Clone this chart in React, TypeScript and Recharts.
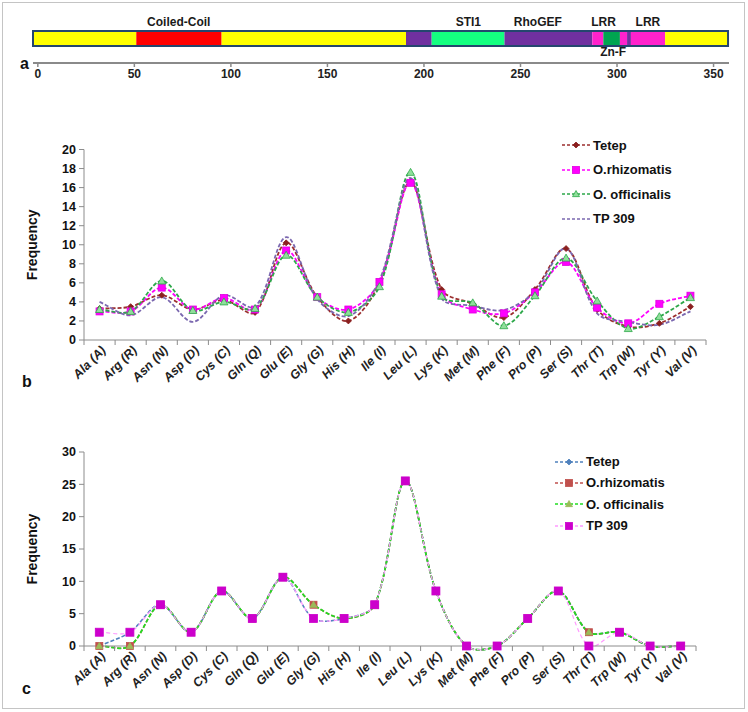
import React from "react";
import {
  ComposedChart, LineChart, Line, XAxis, YAxis, Legend,
  ReferenceArea, ReferenceDot, Label,
} from "recharts";

// panel a: protein domain map (positions in residues)
const segStarts = [-2.5, 51, 95.2, 190.7, 204, 241.7, 287.2, 292.9, 301.5, 305.2, 307.2, 324.9];
const segEnds = [51, 95.2, 190.7, 204, 241.7, 287.2, 292.9, 301.5, 305.2, 307.2, 324.9, 357.5];
const segColors = ["#ffff00", "#ff0000", "#ffff00", "#7030a0", "#14ff80", "#7030a0", "#ff22cc", "#00a550", "#ff22cc", "#7030a0", "#ff22cc", "#ffff00"];
const domainLabels = ["Coiled-Coil", "STI1", "RhoGEF", "LRR", "LRR"];
const domainLabelPos = [73, 223, 259, 293, 316];
const znfLabel = "Zn-F";
const znfPos = 298;
const residueTicks = [0, 50, 100, 150, 200, 250, 300, 350];

// panels b and c: amino acid frequency
const aminoAcids = ["Ala (A)", "Arg (R)", "Asn (N)", "Asp (D)", "Cys (C)", "Gln (Q)", "Glu (E)", "Gly (G)", "His (H)", "Ile (I)",
  "Leu (L)", "Lys (K)", "Met (M)", "Phe (F)", "Pro (P)", "Ser (S)", "Thr (T)", "Trp (W)", "Tyr (Y)", "Val (V)"];
const seriesNames = ["Tetep", "O.rhizomatis", "O. officinalis", "TP 309"];

const tetepB = [3.3, 3.5, 4.7, 3.2, 4.2, 2.9, 10.2, 4.5, 2.0, 6.0, 16.6, 5.3, 3.8, 2.35, 5.3, 9.6, 3.2, 1.4, 1.75, 3.5];
const rhizB = [3.0, 3.0, 5.5, 3.2, 4.4, 3.2, 9.4, 4.5, 3.2, 6.1, 16.5, 4.8, 3.2, 2.8, 5.0, 8.2, 3.4, 1.75, 3.8, 4.65];
const offB = [3.2, 3.0, 6.2, 3.1, 4.0, 3.3, 8.9, 4.5, 2.9, 5.6, 17.6, 4.6, 3.9, 1.5, 4.65, 8.6, 4.1, 1.2, 2.45, 4.45];
const tpB = [4.0, 2.6, 4.5, 1.9, 4.7, 3.5, 10.8, 4.3, 2.5, 6.3, 17.0, 4.4, 3.6, 3.15, 5.1, 9.6, 2.8, 1.9, 1.6, 3.0];

const tetepC = [0, 2.13, 6.38, 2.13, 8.51, 4.26, 10.64, 4.26, 4.26, 6.38, 25.53, 8.51, 0, 0, 4.26, 8.51, 2.13, 2.13, 0, 0];
const rhizC = [0, 0, 6.38, 2.13, 8.51, 4.26, 10.64, 6.38, 4.26, 6.38, 25.53, 8.51, 0, 0, 4.26, 8.51, 2.13, 2.13, 0, 0];
const offC = [0, 0, 6.38, 2.13, 8.51, 4.26, 10.64, 6.38, 4.26, 6.38, 25.53, 8.51, 0, 0, 4.26, 8.51, 2.13, 2.13, 0, 0];
const tpC = [2.13, 2.13, 6.38, 2.13, 8.51, 4.26, 10.64, 4.26, 4.26, 6.38, 25.53, 8.51, 0, 0, 4.26, 8.51, 0, 2.13, 0, 0];

const ticksB = [0, 2, 4, 6, 8, 10, 12, 14, 16, 18, 20];
const ticksC = [0, 5, 10, 15, 20, 25, 30];

const dataB = aminoAcids.map((aa, i) => ({ aa, s0: tetepB[i], s1: rhizB[i], s2: offB[i], s3: tpB[i] }));
const dataC = aminoAcids.map((aa, i) => ({ aa, s0: tetepC[i], s1: rhizC[i], s2: offC[i], s3: tpC[i] }));

const FONT = "'Liberation Sans', Arial, sans-serif";

// Excel-like smoothed line: bezier with control arms scaled by neighbouring chord lengths
function excelSmooth(context: any) {
  let pts: number[][] = [];
  const dist = (a: number[], b: number[]) => Math.hypot(b[0] - a[0], b[1] - a[1]);
  return {
    areaStart() {},
    areaEnd() {},
    lineStart() { pts = []; },
    point(x: number, y: number) { pts.push([+x, +y]); },
    lineEnd() {
      const n = pts.length;
      if (!n) return;
      context.moveTo(pts[0][0], pts[0][1]);
      for (let i = 0; i < n - 1; i++) {
        const p0 = pts[Math.max(i - 1, 0)], p1 = pts[i], p2 = pts[i + 1], p3 = pts[Math.min(i + 2, n - 1)];
        const d01 = dist(p0, p1), d12 = dist(p1, p2), d23 = dist(p2, p3);
        const f1 = d01 + d12 > 0 ? d12 / (d01 + d12) / 3 : 0;
        const f2 = d12 + d23 > 0 ? d12 / (d12 + d23) / 3 : 0;
        context.bezierCurveTo(
          p1[0] + (p2[0] - p0[0]) * f1, p1[1] + (p2[1] - p0[1]) * f1,
          p2[0] - (p3[0] - p1[0]) * f2, p2[1] - (p3[1] - p1[1]) * f2,
          p2[0], p2[1],
        );
      }
    },
  };
}

function Mark({ shape, cx, cy, size, fill, stroke }: any) {
  if (cx == null || cy == null || shape === "none") return null;
  const h = size / 2;
  if (shape === "square") return <rect x={cx - h} y={cy - h} width={size} height={size} fill={fill} stroke={stroke} strokeWidth={0.8} />;
  if (shape === "diamond") return <path d={`M${cx},${cy - h}L${cx + h},${cy}L${cx},${cy + h}L${cx - h},${cy}Z`} fill={fill} stroke={stroke} strokeWidth={0.8} />;
  return <path d={`M${cx},${cy - h}L${cx + h},${cy + h * 0.75}L${cx - h},${cy + h * 0.75}Z`} fill={fill} stroke={stroke} strokeWidth={0.8} />;
}

const styleB = [
  { line: "#9c2f2f", shape: "diamond", fill: "#8a1f1f", stroke: "#8a1f1f", size: 6, dash: "4 2", width: 1.8 },
  { line: "#ff00ff", shape: "square", fill: "#ff00ff", stroke: "#e000e0", size: 7, dash: "4 2", width: 1.8 },
  { line: "#2da84a", shape: "triangle", fill: "#8fdf9a", stroke: "#2da84a", size: 8, dash: "4 2", width: 1.8 },
  { line: "#7b68b0", shape: "none", fill: "none", stroke: "none", size: 0, dash: "4 2", width: 1.8 },
];
const styleC = [
  { line: "#4f81bd", shape: "diamond", fill: "#4f81bd", stroke: "#4f81bd", size: 6, dash: "4 2", width: 1.6 },
  { line: "#c0504d", shape: "square", fill: "#c0504d", stroke: "#c0504d", size: 7, dash: "4 2", width: 1.6 },
  { line: "#22dd22", shape: "triangle", fill: "#9bbb59", stroke: "#9bbb59", size: 7, dash: "4 2", width: 1.8 },
  { line: "#ff99ff", shape: "square", fill: "#cc00cc", stroke: "#cc00cc", size: 8, dash: "4 3", width: 1.2 },
];

function makeDot(st: any) {
  return (p: any) => <Mark key={`d${p.index}`} shape={st.shape} cx={p.cx} cy={p.cy} size={st.size} fill={st.fill} stroke={st.stroke} />;
}

function LegendBox({ styles, rowH }: any) {
  return (
    <div style={{ fontFamily: FONT }}>
      {seriesNames.map((n, i) => (
        <div key={n} style={{ height: rowH, display: "flex", alignItems: "center" }}>
          <svg width={30} height={12}>
            <line x1={1} y1={6} x2={29} y2={6} stroke={styles[i].line} strokeWidth={1.6} strokeDasharray="3 2" />
            <Mark shape={styles[i].shape} cx={15} cy={6} size={Math.min(styles[i].size, 7)} fill={styles[i].fill} stroke={styles[i].stroke} />
          </svg>
          <span style={{ marginLeft: 2, fontSize: 13, fontWeight: "bold", color: "#111" }}>{n}</span>
        </div>
      ))}
    </div>
  );
}

function CatTick(props: any) {
  const { x, y, payload, index, step } = props;
  const tx = x + 7, ty = y + 11;
  return (
    <g>
      <line x1={x - step / 2} y1={y} x2={x - step / 2} y2={y + 5} stroke="#8c8c8c" />
      {index === aminoAcids.length - 1 && <line x1={x + step / 2} y1={y} x2={x + step / 2} y2={y + 5} stroke="#8c8c8c" />}
      <text x={tx} y={ty} transform={`rotate(-45 ${tx} ${ty})`} textAnchor="end" fontSize={12.5}
        fontWeight="bold" fontStyle="italic" fill="#222" fontFamily={FONT}>{payload.value}</text>
    </g>
  );
}

function FreqLabel({ viewBox }: any) {
  const x = viewBox.x - 7, y = viewBox.y + viewBox.height / 2;
  return <text x={x} y={y} transform={`rotate(-90 ${x} ${y})`} textAnchor="middle" fontSize={14} fontWeight="bold" fill="#111" fontFamily={FONT}>Frequency</text>;
}

function FreqChart({ data, styles, ticks, max, width, height, margin, legendPos, rowH }: any) {
  const step = (width - margin.left - margin.right - 40) / aminoAcids.length;
  return (
    <LineChart width={width} height={height} data={data} margin={margin}>
      <XAxis dataKey="aa" scale="band" interval={0} height={60} tickLine={false} tickSize={0} tickMargin={0}
        axisLine={{ stroke: "#8c8c8c" }} tick={(p: any) => <CatTick {...p} step={step} />} />
      <YAxis width={40} domain={[0, max]} ticks={ticks} interval={0} tickSize={5} tickMargin={3}
        axisLine={{ stroke: "#8c8c8c" }} tickLine={{ stroke: "#8c8c8c" }}
        tick={{ fill: "#111", fontSize: 12.5, fontWeight: "bold", fontFamily: FONT }}>
        <Label content={<FreqLabel />} />
      </YAxis>
      <Legend layout="vertical" align="center" verticalAlign="middle" wrapperStyle={{ left: legendPos[0], top: legendPos[1], width: 170 }}
        content={() => <LegendBox styles={styles} rowH={rowH} />} />
      {styles.map((st: any, i: number) => (
        <Line key={i} dataKey={`s${i}`} name={seriesNames[i]} type={excelSmooth as any} stroke={st.line} strokeWidth={st.width}
          strokeDasharray={st.dash} dot={makeDot(st)} activeDot={false} isAnimationActive={false} />
      ))}
    </LineChart>
  );
}

function PanelLetter({ ch, x, y }: any) {
  return <div style={{ position: "absolute", left: x, top: y, fontSize: 16, fontWeight: "bold", color: "#111", fontFamily: FONT }}>{ch}</div>;
}

export default function App() {
  return (
    <div style={{ position: "absolute", left: 0, top: 0, width: 748, height: 712, background: "#fff", overflow: "hidden", fontFamily: FONT }}>
      <div style={{ position: "absolute", left: 2, top: 2, width: 741, height: 705, border: "1px solid #c4c4c4" }} />

      <div style={{ position: "absolute", left: 0, top: 0 }}>
        <ComposedChart width={748} height={93} margin={{ top: 0, right: 19, left: 33, bottom: 0 }} data={[{}]}>
          <XAxis type="number" dataKey="x" domain={[-2.5, 358]} ticks={residueTicks} interval={0} allowDataOverflow height={30}
            axisLine={{ stroke: "#8a8a8a", strokeWidth: 2 }} tickLine={{ stroke: "#8a8a8a", strokeWidth: 1.5 }} tickSize={4} tickMargin={2}
            tick={{ fill: "#222", fontSize: 12, fontWeight: "bold", fontFamily: FONT }} />
          <YAxis type="number" dataKey="y" domain={[0, 63]} allowDataOverflow hide />
          {segStarts.map((s, i) => (
            <ReferenceArea key={i} x1={s} x2={segEnds[i]} y1={17} y2={32} fill={segColors[i]} fillOpacity={1} stroke="none" ifOverflow="visible" />
          ))}
          <ReferenceArea x1={segStarts[0]} x2={segEnds[segEnds.length - 1]} y1={17} y2={32} fill="none" stroke="#24466e" strokeWidth={2} ifOverflow="visible" />
          {domainLabels.map((l, i) => (
            <ReferenceDot key={l + i} x={domainLabelPos[i]} y={32} r={0} stroke="none" ifOverflow="visible"
              label={{ value: l, position: "top", offset: 5, fill: "#1a1a1a", fontSize: 12, fontWeight: "bold", fontFamily: FONT }} />
          ))}
          <ReferenceDot x={znfPos} y={17} r={0} stroke="none" ifOverflow="visible"
            label={{ value: znfLabel, position: "bottom", offset: 1, fill: "#1a1a1a", fontSize: 12, fontWeight: "bold", fontFamily: FONT }} />
        </ComposedChart>
      </div>
      <PanelLetter ch="a" x={20} y={55} />

      <div style={{ position: "absolute", left: 0, top: 130 }}>
        <FreqChart data={dataB} styles={styleB} ticks={ticksB} max={20} width={748} height={280}
          margin={{ top: 19.5, right: 42, left: 44, bottom: 10 }} legendPos={[561, 3]} rowH={24.5} />
      </div>
      <PanelLetter ch="b" x={22} y={373} />

      <div style={{ position: "absolute", left: 0, top: 430 }}>
        <FreqChart data={dataC} styles={styleC} ticks={ticksC} max={30} width={748} height={276}
          margin={{ top: 22, right: 52, left: 44, bottom: 0 }} legendPos={[554, 21]} rowH={21.3} />
      </div>
      <PanelLetter ch="c" x={22} y={680} />
    </div>
  );
}
